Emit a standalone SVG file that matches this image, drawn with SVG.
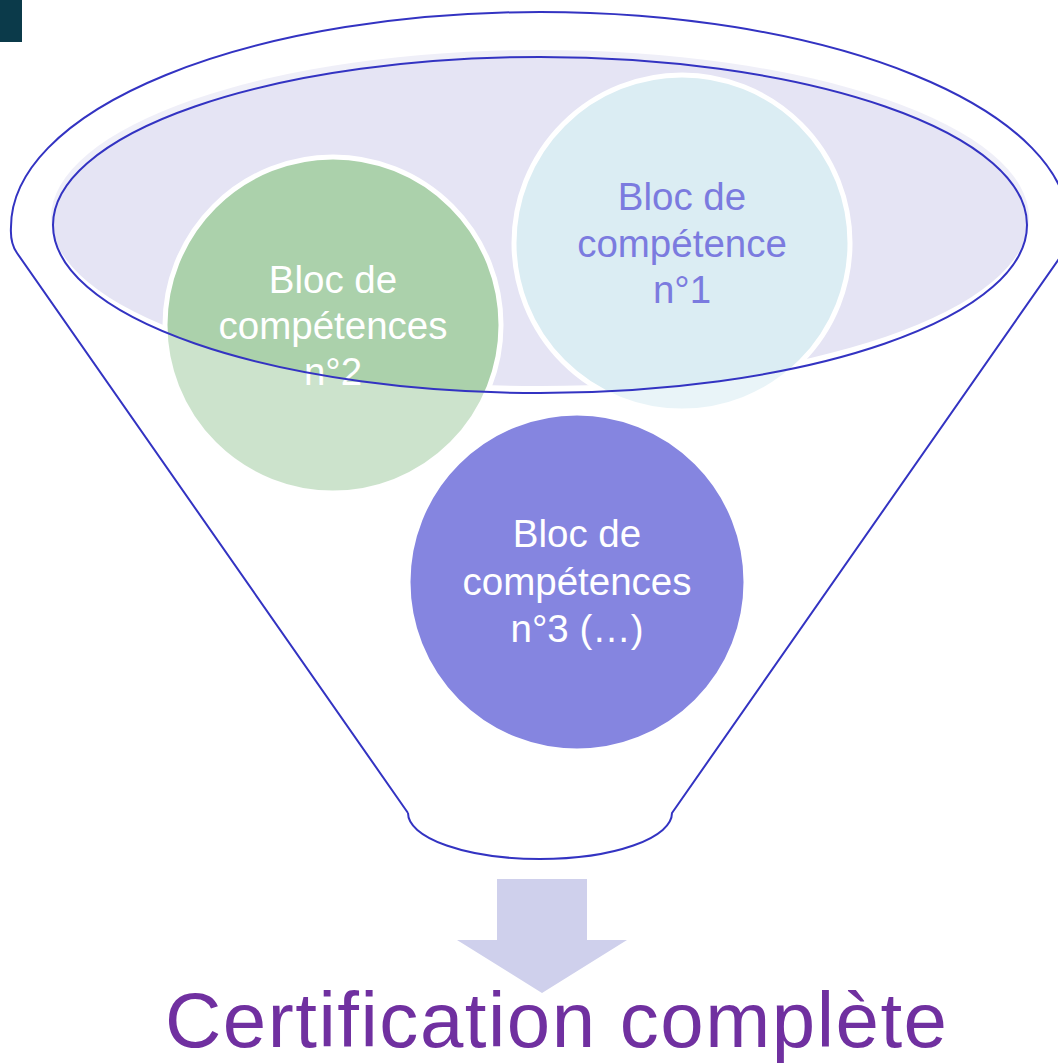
<svg xmlns="http://www.w3.org/2000/svg" width="1058" height="1064" viewBox="0 0 1058 1064">
  <style>
    .line { fill: none; stroke: #3333c2; stroke-width: 2; }
    .circ { stroke: #ffffff; stroke-width: 5; }
    .lbl { font-family: "Liberation Sans", Arial, sans-serif; font-size: 38.5px; text-anchor: middle; }
    .title { font-family: "Liberation Sans", Arial, sans-serif; font-size: 78px; text-anchor: middle; fill: #7030a0; }
  </style>
  <rect id="corner" x="0" y="0" width="22" height="42" fill="#0b3a4a"/>
  <g id="funnel-top">
    <ellipse cx="540" cy="218" rx="489" ry="168" fill="#e5e4f4"/>
  </g>
  <g id="bloc2">
    <circle class="circ" cx="333" cy="325" r="168" fill="#abd1ab"/>
  </g>
  <g id="bloc1">
    <circle class="circ" cx="682" cy="243" r="168" fill="#dbedf3"/>
  </g>
  <g id="funnel-body">
    <path d="M 408 813 L 17 253 Q 10 243 11 227 A 529 215 0 0 1 1069 227 Q 1070 243 1063 253 L 672 813 A 132 46 0 0 1 408 813 Z M 53 225 A 487 168 0 0 0 1027 225 A 487 168 0 0 0 53 225 Z" fill="#ffffff" fill-opacity="0.4" fill-rule="evenodd"/>
  </g>
  <g id="bloc3">
    <circle class="circ" cx="577" cy="582" r="169" fill="#8585e0"/>
  </g>
  <g id="labels">
    <text class="lbl" fill="#ffffff" x="333" y="293">Bloc de</text>
    <text class="lbl" fill="#ffffff" x="333" y="339">compétences</text>
    <text class="lbl" fill="#ffffff" x="333" y="385">n°2</text>
    <text class="lbl" fill="#7b7bdf" x="682" y="210">Bloc de</text>
    <text class="lbl" fill="#7b7bdf" x="682" y="257">compétence</text>
    <text class="lbl" fill="#7b7bdf" x="682" y="303">n°1</text>
    <text class="lbl" fill="#ffffff" x="577" y="547">Bloc de</text>
    <text class="lbl" fill="#ffffff" x="577" y="595">compétences</text>
    <text class="lbl" fill="#ffffff" x="577" y="642">n°3 (…)</text>
  </g>
  <g id="funnel-lines">
    <ellipse class="line" cx="540" cy="225" rx="487" ry="168"/>
    <path class="line" d="M 408 813 L 17 253 Q 10 243 11 227 A 529 215 0 0 1 1069 227 Q 1070 243 1063 253 L 672 813 A 132 46 0 0 1 408 813"/>
  </g>
  <g id="connectors">
    <path d="M 497 879 L 587 879 L 587 940 L 627 940 L 542 993 L 457 940 L 497 940 Z" fill="#cfd0ec"/>
  </g>
  <g id="result">
    <text class="title" x="556" y="1047" textLength="782" lengthAdjust="spacing">Certification complète</text>
  </g>
</svg>
